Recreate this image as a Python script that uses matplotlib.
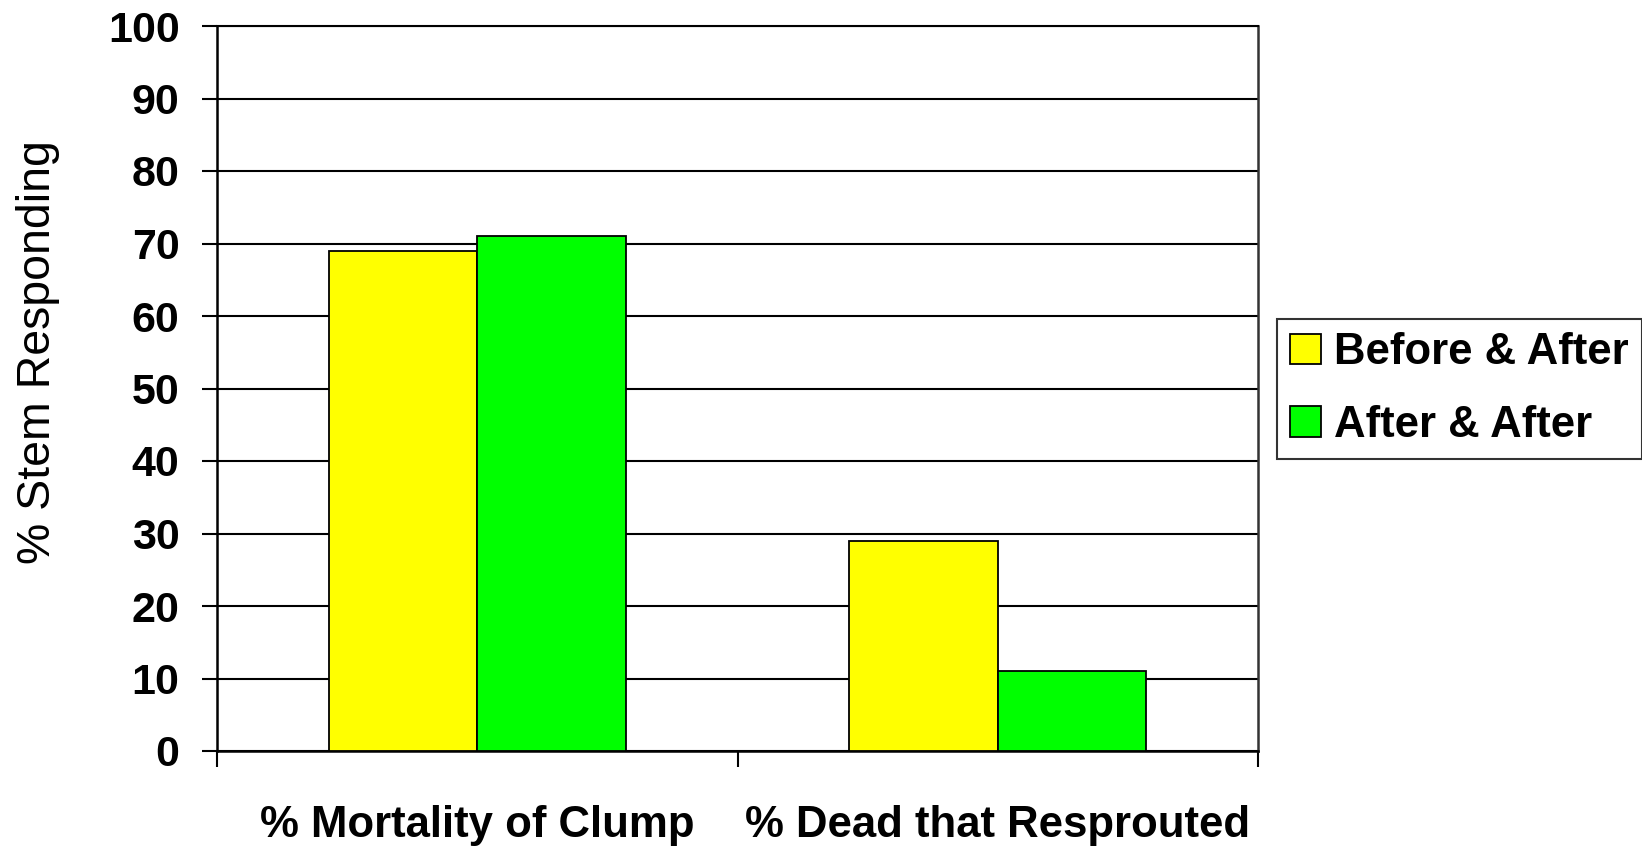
import numpy as np
import matplotlib
matplotlib.use('Agg')
import matplotlib.pyplot as plt

# data
categories = ['% Mortality of Clump', '% Dead that Resprouted']
series_names = ['Before & After', 'After & After']
before_after = [69, 29]
after_after = [71, 11]
colors = ['#ffff00', '#00ff00']
y_ticks = [0, 10, 20, 30, 40, 50, 60, 70, 80, 90, 100]

plt.rcParams['font.family'] = ['Liberation Sans', 'DejaVu Sans']

W, H = 1642, 849
fig = plt.figure(figsize=(W / 100, H / 100), dpi=100)
# plot area in pixels: left 217, right 1258, top 26, bottom 751
ax = fig.add_axes([217 / W, 1 - 751 / H, (1258 - 217) / W, (751 - 26) / H])

x = np.arange(len(categories)) + 0.5
bw = 0.285
ax.bar(x - bw / 2, before_after, width=bw, color=colors[0], edgecolor='black',
       linewidth=1.3, label=series_names[0], zorder=3)
ax.bar(x + bw / 2, after_after, width=bw, color=colors[1], edgecolor='black',
       linewidth=1.3, label=series_names[1], zorder=3)

ax.set_xlim(0, len(categories))
ax.set_ylim(0, 100)
ax.set_yticks(y_ticks)
ax.set_yticklabels([str(v) for v in y_ticks], fontsize=31, fontweight='bold')
ax.yaxis.grid(True, color='black', linewidth=1.5, zorder=0)
ax.tick_params(axis='y', length=11, width=1.5, pad=16)

# category boundaries get ticks, labels sit between them
ax.set_xticks(np.arange(len(categories) + 1))
ax.set_xticklabels([])
ax.set_xticks(x, minor=True)
ax.set_xticklabels(categories, minor=True, fontsize=31.5, fontweight='bold')
ax.tick_params(axis='x', which='major', length=11.5, width=1.5, direction='out')
ax.tick_params(axis='x', which='minor', length=0, pad=39)

for s in ['left', 'bottom']:
    ax.spines[s].set_linewidth(1.8)
ax.spines['top'].set_linewidth(1.5)
ax.spines['right'].set_linewidth(1.8)
ax.spines['right'].set_color('#333333')

fig.text(38 / W, 1 - 352 / H, '% Stem Responding', rotation=90, fontsize=33.5,
         ha='center', va='center')

leg = ax.legend(loc='center left', bbox_to_anchor=(1277 / W, 1 - 389 / H),
                bbox_transform=fig.transFigure,
                prop={'weight': 'bold', 'size': 31.5}, frameon=True, fancybox=False,
                edgecolor='black', handlelength=0.7, handleheight=0.7,
                handletextpad=0.3, borderpad=0.3, labelspacing=0.72,
                borderaxespad=0)
leg.get_frame().set_linewidth(1.5)

fig.savefig('out.png', dpi=100, facecolor='white')
